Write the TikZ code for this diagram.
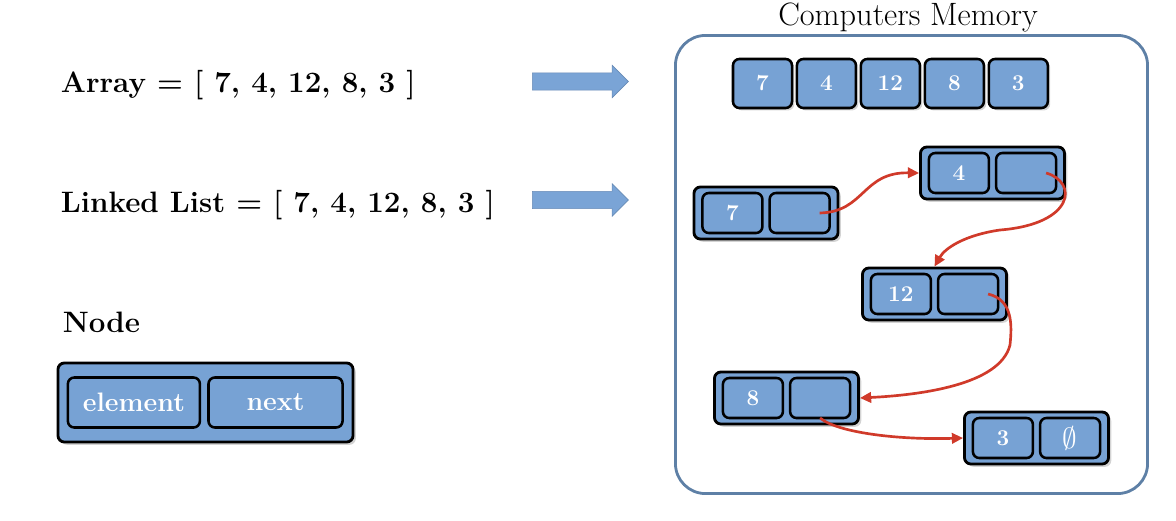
\documentclass[tikz,border=0pt]{standalone}
\usetikzlibrary{positioning,shadows,shapes.arrows,arrows.meta}
\definecolor{cellblue}{RGB}{119,162,212}
\definecolor{memblue}{RGB}{94,128,166}
\definecolor{linkred}{RGB}{208,58,42}
\definecolor{arrowblue}{RGB}{122,164,214}

\begin{document}
\begin{tikzpicture}[x=0.025cm, y=-0.025cm,
    cell/.style={draw, fill=cellblue, line width=1.8pt, rounded corners=0.16cm, text=white,
        font=\fontsize{16}{19}\selectfont\bfseries, minimum width=1.5cm, minimum height=1cm, inner sep=0pt},
    box/.style={draw, fill=cellblue, line width=2pt, rounded corners=0.16cm,
        minimum width=3.6cm, minimum height=1.3cm,
        drop shadow={opacity=0.35, shadow xshift=0.07cm, shadow yshift=-0.07cm}},
    link/.style={linkred, line width=1.9pt, -{Triangle[length=0.28cm, width=0.26cm]}},
    bigarrow/.style={single arrow, fill=arrowblue, draw=arrowblue!85!black, line width=0.4pt,
        inner sep=0.21cm, single arrow head extend=0.19cm, minimum height=2.4cm},
    label/.style={anchor=base west, font=\fontsize{21}{25}\selectfont\bfseries}]

\useasboundingbox (0,0) rectangle (1176,520);

% Left side text
\node[label] (arraytxt) at (56,92) {Array = [ 7, 4, 12, 8, 3 ]};
\node[label] (listtxt) at (56,212) {Linked List = [ 7, 4, 12, 8, 3 ]};
\node[label] (nodetxt) at (58,332) {Node};

% Arrows to memory
\node[bigarrow] (arrow1) at (576,81.5) {};
\node[bigarrow] (arrow2) at (576,200) {};

% Node legend
\node[box, minimum width=7.375cm, minimum height=1.975cm] (legend) at (205.5,402.5) {};
\node[cell, minimum width=3.3cm, minimum height=1.25cm, font=\fontsize{19}{22}\selectfont\bfseries]
    (element) at ([xshift=-1.79cm]legend.center) {element};
\node[cell, minimum width=3.35cm, minimum height=1.25cm, font=\fontsize{19}{22}\selectfont\bfseries]
    (next) at ([xshift=1.75cm]legend.center) {next};

% Computers memory
\node[draw=memblue, line width=2pt, rounded corners=0.75cm,
    minimum width=11.8cm, minimum height=11.45cm] (memory) at (911.5,264.5) {};
\node[anchor=base, font=\fontsize{23}{27}\selectfont] (title) at (908,25) {Computers Memory};

% Array cells
\node[cell, minimum width=1.475cm, minimum height=1.225cm,
    drop shadow={opacity=0.35, shadow xshift=0.06cm, shadow yshift=-0.06cm}] (arr1) at (762.5,83.5) {7};
\node[cell, minimum width=1.475cm, minimum height=1.225cm,
    drop shadow={opacity=0.35, shadow xshift=0.06cm, shadow yshift=-0.06cm}, right=0.06cm of arr1] (arr2) {4};
\node[cell, minimum width=1.475cm, minimum height=1.225cm,
    drop shadow={opacity=0.35, shadow xshift=0.06cm, shadow yshift=-0.06cm}, right=0.06cm of arr2] (arr3) {12};
\node[cell, minimum width=1.475cm, minimum height=1.225cm,
    drop shadow={opacity=0.35, shadow xshift=0.06cm, shadow yshift=-0.06cm}, right=0.06cm of arr3] (arr4) {8};
\node[cell, minimum width=1.475cm, minimum height=1.225cm,
    drop shadow={opacity=0.35, shadow xshift=0.06cm, shadow yshift=-0.06cm}, right=0.06cm of arr4] (arr5) {3};

% Linked list nodes
\node[box] (n7) at (766,213) {};
\node[cell] (n7v) at ([xshift=-0.84cm]n7.center) {7};
\node[cell] (n7n) at ([xshift=0.84cm]n7.center) {};

\node[box] (n4) at (992.5,173) {};
\node[cell] (n4v) at ([xshift=-0.84cm]n4.center) {4};
\node[cell] (n4n) at ([xshift=0.84cm]n4.center) {};

\node[box] (n12) at (934.5,294) {};
\node[cell] (n12v) at ([xshift=-0.84cm]n12.center) {12};
\node[cell] (n12n) at ([xshift=0.84cm]n12.center) {};

\node[box] (n8) at (786.5,398) {};
\node[cell] (n8v) at ([xshift=-0.84cm]n8.center) {8};
\node[cell] (n8n) at ([xshift=0.84cm]n8.center) {};

\node[box] (n3) at (1036.5,438) {};
\node[cell] (n3v) at ([xshift=-0.84cm]n3.center) {3};
\node[cell, font=\fontsize{21}{24}\selectfont] (n3n) at ([xshift=0.84cm]n3.center) {$\emptyset$};

% Links
\draw[link] ([xshift=0.5cm]n7n.center) .. controls (865,212) and (862,172) .. (n4.west);
\draw[link] ([xshift=0.5cm]n4n.center) .. controls (1078,182) and (1075,224) .. (1000,230)
    .. controls (965,235) and (945,248) .. (n12.north);
\draw[link] ([xshift=0.5cm]n12n.center) .. controls (1013,300) and (1012,325) .. (1010,345)
    .. controls (1000,385) and (920,395) .. (n8.east);
\draw[link] ([yshift=-0.5cm]n8n.center) .. controls (838,433) and (900,440) .. (n3.west);

\end{tikzpicture}
\end{document}
